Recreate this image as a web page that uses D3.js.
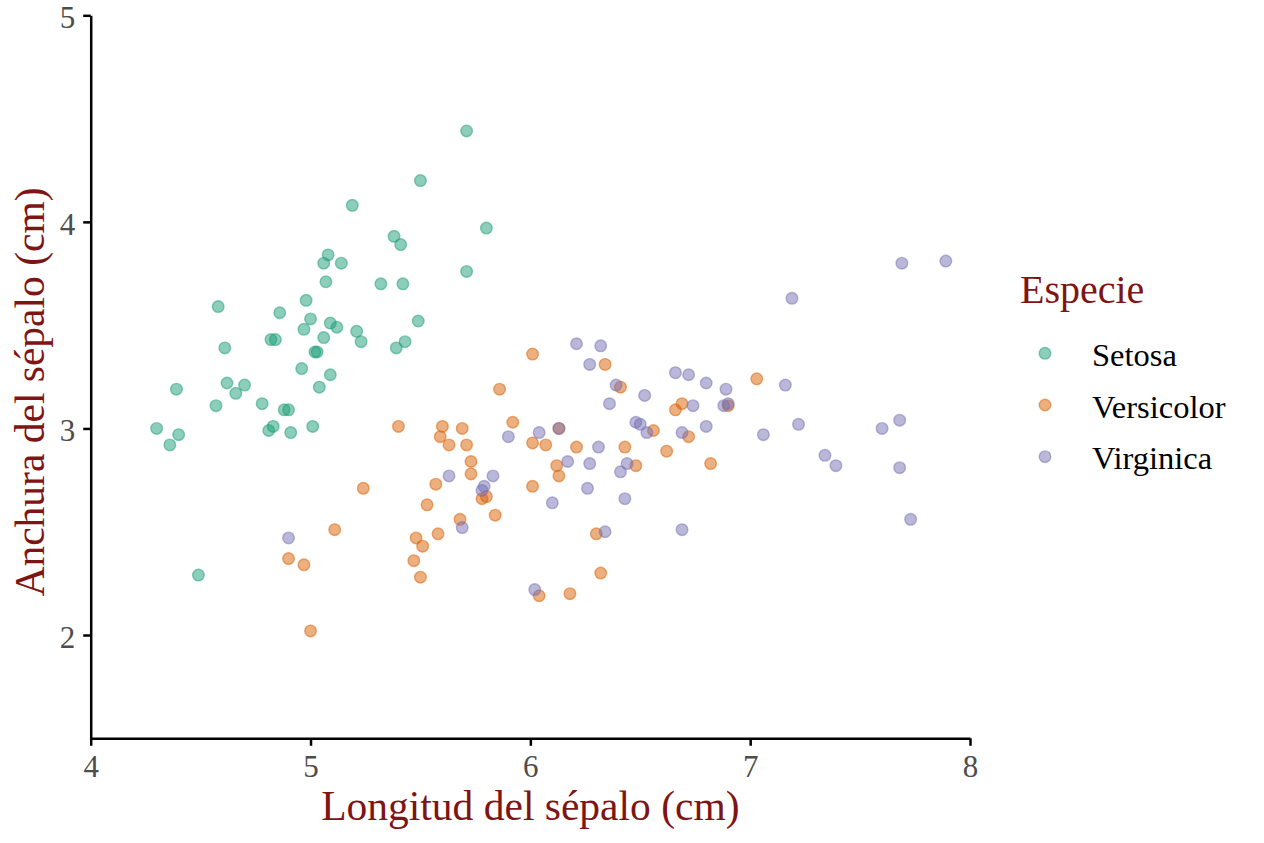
<!DOCTYPE html>
<html>
<head>
<meta charset="utf-8">
<script src="https://cdn.jsdelivr.net/npm/d3@7"></script>
<style>
  html, body { margin: 0; padding: 0; background: #fff; }
  svg { display: block; font-family: "Liberation Serif", "Times New Roman", serif; }
</style>
</head>
<body>
<svg id="chart"></svg>
<script>
const speciesNames = ["Setosa", "Versicolor", "Virginica"];
const speciesColors = ["#1B9E77", "#D95F02", "#7570B3"];

const setosaLength = [5.71,5.50,5.19,5.80,5.38,5.41,5.08,5.06,5.14,5.71,5.07,5.32,5.42,4.98,4.58,4.86,5.00,4.97,5.09,5.12,5.49,5.21,5.23,5.06,4.82,4.84,4.61,5.02,5.03,5.39,5.43,4.96,5.09,5.04,4.39,4.62,4.70,4.66,4.57,4.78,4.88,4.90,4.30,4.40,4.36,4.83,4.81,4.91,5.01,4.49];
const setosaWidth  = [4.44,4.20,4.08,3.97,3.93,3.89,3.84,3.80,3.80,3.76,3.71,3.70,3.70,3.62,3.59,3.56,3.53,3.48,3.51,3.49,3.52,3.47,3.42,3.44,3.43,3.43,3.39,3.37,3.37,3.39,3.42,3.29,3.26,3.20,3.19,3.22,3.21,3.17,3.11,3.12,3.09,3.09,3.00,2.97,2.92,3.01,2.99,2.98,3.01,2.29];

const versicolorLength = [6.01,5.86,6.34,6.41,7.03,5.40,5.60,5.69,5.59,5.63,5.71,5.92,6.01,6.07,6.13,6.21,6.43,6.56,6.62,6.66,6.69,6.72,6.90,6.82,5.73,5.73,5.57,5.53,5.24,6.01,6.12,6.13,5.78,5.80,5.84,5.68,5.58,5.48,5.51,5.47,5.50,6.30,6.32,6.04,6.18,5.11,4.90,4.97,5.00,6.48];
const versicolorWidth  = [3.36,3.19,3.31,3.20,3.24,3.01,3.01,3.00,2.96,2.92,2.92,3.03,2.93,2.92,3.00,2.91,2.91,2.99,2.89,3.09,3.12,2.96,3.11,2.83,2.84,2.78,2.73,2.63,2.71,2.72,2.82,2.77,2.66,2.67,2.58,2.56,2.49,2.47,2.43,2.36,2.28,2.49,2.30,2.19,2.20,2.51,2.37,2.34,2.02,2.82];

const virginicaLength = [6.21,6.32,6.27,6.39,6.36,5.90,6.04,6.13,6.31,6.17,6.27,6.26,6.10,5.63,5.83,5.79,5.78,5.69,6.34,6.02,4.90,6.52,6.66,6.72,6.80,6.89,6.88,6.90,6.48,6.50,6.53,6.69,6.80,7.06,6.44,6.41,6.43,6.69,6.74,7.69,7.89,7.19,7.16,7.22,7.34,7.39,7.60,7.68,7.68,7.73];
const virginicaWidth  = [3.41,3.40,3.31,3.21,3.12,2.96,2.98,3.00,2.91,2.84,2.83,2.71,2.64,2.77,2.77,2.72,2.70,2.52,2.50,2.22,2.47,3.16,3.27,3.26,3.22,3.19,3.11,3.12,3.03,3.02,2.98,2.98,3.01,2.97,2.83,2.79,2.66,2.51,3.11,3.80,3.81,3.63,3.21,3.02,2.87,2.82,3.00,3.04,2.81,2.56];

const xTicks = [4, 5, 6, 7, 8];
const yTicks = [2, 3, 4, 5];

const svgWidth = 1264;
const svgHeight = 843;

const svg = d3.select("#chart")
    .attr("width", svgWidth)
    .attr("height", svgHeight);

const margin = { top: 15.3, left: 90.7, right: 294, bottom: 104.7 };
const width = 970 - margin.left;
const height = 738.3 - margin.top;

const g = svg.append("g")
    .attr("transform", `translate(${margin.left},${margin.top})`);

const x = d3.scaleLinear().domain([4, 8]).range([0, width]);
const y = d3.scaleLinear().domain([1.5, 5]).range([height, 0]);

const color = d3.scaleOrdinal().domain(speciesNames).range(speciesColors);

const groups = [
    { name: "Setosa", xs: setosaLength, ys: setosaWidth },
    { name: "Versicolor", xs: versicolorLength, ys: versicolorWidth },
    { name: "Virginica", xs: virginicaLength, ys: virginicaWidth }
];

const points = [];
groups.forEach(s => {
    s.xs.forEach((v, i) => points.push({ species: s.name, len: v, wid: s.ys[i] }));
});

// axes
const xAxis = g.append("g")
    .attr("transform", `translate(0,${height})`)
    .call(d3.axisBottom(x).tickValues(xTicks).tickFormat(d3.format("d")).tickSize(7.5).tickPadding(9).tickSizeOuter(0));

const yAxis = g.append("g")
    .call(d3.axisLeft(y).tickValues(yTicks).tickFormat(d3.format("d")).tickSize(7.5).tickPadding(8).tickSizeOuter(0));

[xAxis, yAxis].forEach(a => {
    a.select(".domain").attr("stroke", "#000").attr("stroke-width", 2.5);
    a.selectAll(".tick line").attr("stroke", "#000").attr("stroke-width", 2.5);
    a.selectAll(".tick text")
        .attr("fill", "#4D4D4D")
        .style("font-family", "Liberation Serif, serif")
        .style("font-size", "31px");
});
yAxis.selectAll(".tick text").attr("dy", "0.4em");

// points
g.append("g")
    .selectAll("circle")
    .data(points)
    .enter()
    .append("circle")
    .attr("cx", d => x(d.len))
    .attr("cy", d => y(d.wid))
    .attr("r", 5.8)
    .attr("fill", d => color(d.species))
    .attr("fill-opacity", 0.5)
    .attr("stroke", d => color(d.species))
    .attr("stroke-opacity", 0.5)
    .attr("stroke-width", 1.4);

// axis titles
svg.append("text")
    .attr("x", margin.left + width / 2)
    .attr("y", 820)
    .attr("text-anchor", "middle")
    .attr("fill", "#7F1414")
    .style("font-size", "41.5px")
    .text("Longitud del sépalo (cm)");

svg.append("text")
    .attr("transform", "translate(44,392) rotate(-90)")
    .attr("text-anchor", "middle")
    .attr("fill", "#7F1414")
    .style("font-size", "41.5px")
    .text("Anchura del sépalo (cm)");

// legend
const legend = svg.append("g");

legend.append("text")
    .attr("x", 1020)
    .attr("y", 303)
    .attr("fill", "#7F1414")
    .style("font-size", "40px")
    .text("Especie");

const item = legend.selectAll(".item")
    .data(speciesNames)
    .enter()
    .append("g")
    .attr("class", "item")
    .attr("transform", (d, i) => `translate(1045,${353.3 + i * 51.7})`);

item.append("circle")
    .attr("r", 5.8)
    .attr("fill", d => color(d))
    .attr("fill-opacity", 0.5)
    .attr("stroke", d => color(d))
    .attr("stroke-opacity", 0.5)
    .attr("stroke-width", 1.4);

item.append("text")
    .attr("x", 47)
    .attr("y", 12.5)
    .attr("fill", "#000")
    .style("font-size", "32.5px")
    .text(d => d);
</script>
</body>
</html>
